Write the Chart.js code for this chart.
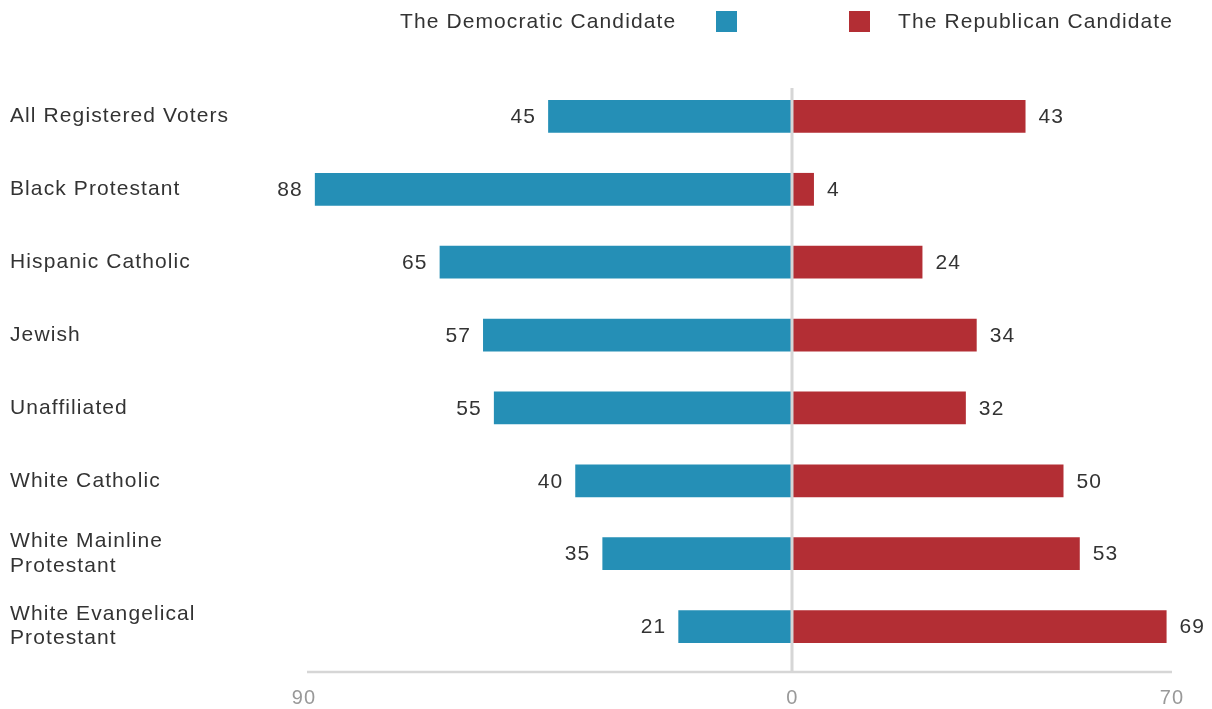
<!DOCTYPE html>
<html lang="en">
<head>
  <meta charset="UTF-8">
  <title>Candidate Support by Religious Group</title>
  <script src="https://cdn.jsdelivr.net/npm/chart.js"></script>
  <style>
    html, body { margin: 0; padding: 0; background: #fff; }
    #wrap { width: 1212px; height: 709px; position: relative; }
  </style>
</head>
<body>
  <div id="wrap"><canvas id="chart"></canvas></div>

  <script>
    // data
    const groups = [
      'All Registered Voters',
      'Black Protestant',
      'Hispanic Catholic',
      'Jewish',
      'Unaffiliated',
      'White Catholic',
      ['White Mainline', 'Protestant'],
      ['White Evangelical', 'Protestant']
    ];
    const democratic = [45, 88, 65, 57, 55, 40, 35, 21];
    const republican = [43, 4, 24, 34, 32, 50, 53, 69];
    const axisTicks = [-90, 0, 70];
    const seriesNames = ['The Democratic Candidate', 'The Republican Candidate'];

    const BLUE = '#258fb6';
    const RED = '#b32e34';
    const FONT = '"Liberation Sans", Arial, sans-serif';
    const SPACING = '1.1px';

    // bar values, legend and the zero / bottom lines
    const extras = {
      id: 'extras',
      beforeDraw(chart) {
        chart.ctx.letterSpacing = SPACING;
      },
      afterDatasetsDraw(chart) {
        const ctx = chart.ctx;
        const x = chart.scales.x;
        const area = chart.chartArea;
        ctx.save();
        ctx.letterSpacing = SPACING;

        // zero line and bottom axis line
        ctx.strokeStyle = '#d6d6d6';
        ctx.lineWidth = 3;
        const zx = Math.round(x.getPixelForValue(0));
        ctx.beginPath();
        ctx.moveTo(zx, 88);
        ctx.lineTo(zx, area.bottom + 9);
        ctx.stroke();
        ctx.lineWidth = 2.5;
        ctx.beginPath();
        ctx.moveTo(area.left + 3, area.bottom + 9);
        ctx.lineTo(area.right, area.bottom + 9);
        ctx.stroke();

        // value labels
        ctx.font = '21px ' + FONT;
        ctx.fillStyle = '#333';
        ctx.textBaseline = 'middle';
        chart.getDatasetMeta(0).data.forEach((bar, i) => {
          ctx.textAlign = 'right';
          ctx.fillText(democratic[i], bar.x - 12, bar.y + 1);
        });
        chart.getDatasetMeta(1).data.forEach((bar, i) => {
          ctx.textAlign = 'left';
          ctx.fillText(republican[i], bar.x + 13, bar.y + 1);
        });

        // legend: text then box, box then text
        ctx.textAlign = 'left';
        ctx.fillText(seriesNames[0], 400, 22);
        ctx.fillStyle = BLUE;
        ctx.fillRect(716, 11, 21, 21);
        ctx.fillStyle = RED;
        ctx.fillRect(849, 11, 21, 21);
        ctx.fillStyle = '#333';
        ctx.fillText(seriesNames[1], 898, 22);
        ctx.restore();
      }
    };

    new Chart(document.getElementById('chart'), {
      type: 'bar',
      data: {
        labels: groups,
        datasets: [{
          label: seriesNames[0],
          data: democratic.map(v => -v),
          backgroundColor: BLUE,
          barPercentage: 0.9,
          categoryPercentage: 0.5
        }, {
          label: seriesNames[1],
          data: republican,
          backgroundColor: RED,
          barPercentage: 0.9,
          categoryPercentage: 0.5
        }]
      },
      options: {
        indexAxis: 'y',
        responsive: true,
        maintainAspectRatio: false,
        animation: false,
        layout: { padding: { left: 10, right: 40, top: 80, bottom: 0 } },
        plugins: {
          legend: { display: false },
          tooltip: { enabled: false }
        },
        scales: {
          x: {
            stacked: true,
            min: -90,
            max: 70,
            afterBuildTicks(scale) {
              scale.ticks = axisTicks.map(v => ({ value: v }));
            },
            afterFit(scale) { scale.height = 46; },
            grid: { display: false },
            border: { display: false },
            ticks: {
              color: '#999',
              font: { family: FONT, size: 20 },
              padding: 15,
              maxRotation: 0,
              callback: v => Math.abs(v)
            }
          },
          y: {
            stacked: true,
            afterFit(scale) { scale.width = 294; },
            grid: { display: false },
            border: { display: false },
            ticks: {
              color: '#333',
              crossAlign: 'far',
              font: { family: FONT, size: 21, lineHeight: 1.15 }
            }
          }
        }
      },
      plugins: [extras]
    });
  </script>
</body>
</html>
